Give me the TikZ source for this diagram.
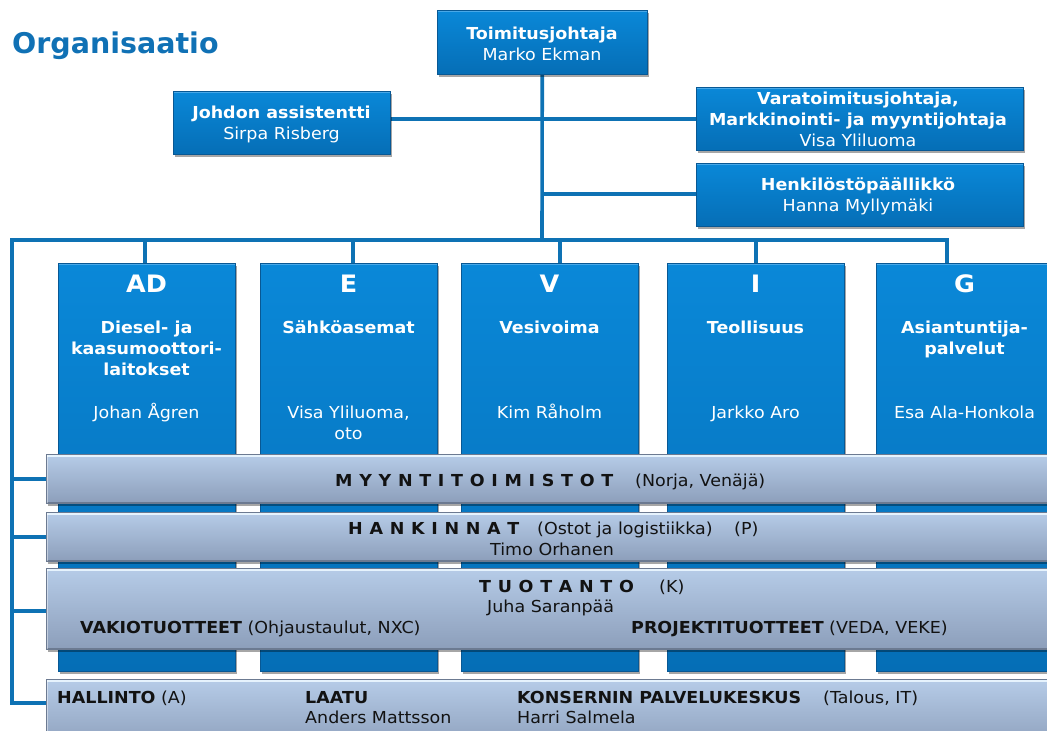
\documentclass[tikz,border=0pt]{standalone}
\usepackage{fontspec}
\setmainfont{DejaVu Sans}[FakeStretch=1.06]
\newfontfamily\headfont{DejaVu Sans}
\newfontfamily\spacedfont{DejaVu Sans}[FakeStretch=1.06, WordSpace=1.1]
\usetikzlibrary{shadows}

\definecolor{titleblue}{RGB}{16,113,181}
\definecolor{lineblue}{RGB}{14,114,180}
\definecolor{boxhi}{RGB}{72,168,232}
\definecolor{boxtop}{RGB}{10,136,216}
\definecolor{boxbot}{RGB}{5,110,182}
\definecolor{boxedge}{RGB}{8,88,148}
\definecolor{bandhi}{RGB}{230,243,253}
\definecolor{bandtop}{RGB}{182,204,232}
\definecolor{bandbot}{RGB}{140,158,186}
\definecolor{bandedge}{RGB}{108,122,145}
\definecolor{ink}{RGB}{18,18,18}

\pgfdeclarelayer{back}
\pgfsetlayers{back,main}

\tikzset{
  conn/.style={draw=lineblue, line width=3.6pt},
  softshadow/.style={drop shadow={shadow xshift=1.5pt, shadow yshift=-2.5pt, opacity=0.35, fill=black}},
  orgbox/.style={anchor=north west, inner sep=0pt, top color=boxtop, bottom color=boxbot,
    draw=boxedge, line width=0.5pt, softshadow,
    path picture={\draw[boxhi, line width=3pt] (path picture bounding box.north west) -- (path picture bounding box.north east);}},
  band/.style={anchor=north west, inner sep=0pt, top color=bandtop, bottom color=bandbot,
    draw=bandedge, line width=0.5pt, softshadow,
    path picture={
      \draw[bandhi, line width=6pt] (path picture bounding box.north west) -- (path picture bounding box.north east);
      \draw[bandedge, line width=3pt] (path picture bounding box.south west) -- (path picture bounding box.south east);
      \draw[white, opacity=0.45, line width=4pt] (path picture bounding box.north west) -- (path picture bounding box.south west);}},
  wt/.style={anchor=base, inner sep=0pt, text=white, font=\fontsize{16.5}{20}\selectfont},
  wtb/.style={wt, font=\fontsize{16.5}{20}\selectfont\bfseries},
  code/.style={wt, font=\fontsize{24}{28}\selectfont\bfseries},
  bt/.style={anchor=base west, inner sep=0pt, text=ink, font=\fontsize{16.5}{20}\selectfont},
  spaced/.style={bt, font=\spacedfont\fontsize{16.5}{20}\selectfont\bfseries},
}

\begin{document}
\begin{tikzpicture}[x=1pt, y=-1pt]
\useasboundingbox (0,0) rectangle (1047,731);
\clip (0,0) rectangle (1047,731);

% heading
\node[anchor=base west, inner sep=0pt, text=titleblue,
      font=\headfont\bfseries\fontsize{28.5}{34}\selectfont] (title) at (12,53) {Organisaatio};

% management boxes
\node[orgbox, minimum width=210, minimum height=64] (ceo) at (437,10) {};
\node[wtb] (ceoT) at (542,39) {Toimitusjohtaja};
\node[wt]  (ceoN) at (542,60) {Marko Ekman};

\node[orgbox, minimum width=217, minimum height=63] (asst) at (173,91) {};
\node[wtb] (asstT) at (281.5,118) {Johdon assistentti};
\node[wt]  (asstN) at (281.5,139) {Sirpa Risberg};

\node[orgbox, minimum width=327, minimum height=63] (vara) at (696,87) {};
\node[wtb] (varaT1) at (858,104) {Varatoimitusjohtaja,};
\node[wtb] (varaT2) at (858,125) {Markkinointi- ja myyntijohtaja};
\node[wt]  (varaN)  at (858,146) {Visa Yliluoma};

\node[orgbox, minimum width=327, minimum height=63] (hr) at (696,163) {};
\node[wtb] (hrT) at (858,190) {Henkilöstöpäällikkö};
\node[wt]  (hrN) at (858,211) {Hanna Myllymäki};

% business units
\node[orgbox, minimum width=177, minimum height=408] (colAD) at (58,263) {};
\node[orgbox, minimum width=177, minimum height=408] (colE)  at (260,263) {};
\node[orgbox, minimum width=177, minimum height=408] (colV)  at (461,263) {};
\node[orgbox, minimum width=177, minimum height=408] (colI)  at (667,263) {};
\node[orgbox, minimum width=177, minimum height=408] (colG)  at (876,263) {};

\node[code] (adC) at (146.5,292) {AD};
\node[wtb] (adT1) at (146.5,333) {Diesel- ja};
\node[wtb] (adT2) at (146.5,354) {kaasumoottori-};
\node[wtb] (adT3) at (146.5,375) {laitokset};
\node[wt]  (adN)  at (146.5,418) {Johan Ågren};

\node[code] (eC) at (348.5,292) {E};
\node[wtb] (eT) at (348.5,333) {Sähköasemat};
\node[wt]  (eN1) at (348.5,418) {Visa Yliluoma,};
\node[wt]  (eN2) at (348.5,439) {oto};

\node[code] (vC) at (549.5,292) {V};
\node[wtb] (vT) at (549.5,333) {Vesivoima};
\node[wt]  (vN) at (549.5,418) {Kim Råholm};

\node[code] (iC) at (755.5,292) {I};
\node[wtb] (iT) at (755.5,333) {Teollisuus};
\node[wt]  (iN) at (755.5,418) {Jarkko Aro};

\node[code] (gC) at (964.5,292) {G};
\node[wtb] (gT1) at (964.5,333) {Asiantuntija-};
\node[wtb] (gT2) at (964.5,354) {palvelut};
\node[wt]  (gN)  at (964.5,418) {Esa Ala-Honkola};

% cross-functional bands
\node[band, minimum width=1020, minimum height=49] (myy)  at (46,454) {};
\node[band, minimum width=1020, minimum height=49] (han)  at (46,512) {};
\node[band, minimum width=1020, minimum height=81] (tuo)  at (46,568) {};
\node[band, minimum width=1020, minimum height=70] (hall) at (46,679) {};

\node[spaced] (myyT) at (335,486) {M Y Y N T I T O I M I S T O T};
\node[bt] (myyC) at (635,486) {(Norja, Venäjä)};

\node[spaced] (hanT) at (348,534) {H A N K I N N A T};
\node[bt] (hanC) at (537,534) {(Ostot ja logistiikka)};
\node[bt] (hanP) at (734,534) {(P)};
\node[bt] (hanN) at (490,555) {Timo Orhanen};

\node[spaced] (tuoT) at (479,592) {T U O T A N T O};
\node[bt] (tuoK) at (659,592) {(K)};
\node[bt] (tuoN) at (487,612) {Juha Saranpää};
\node[bt] (vak)  at (80,633)  {{\bfseries VAKIOTUOTTEET} (Ohjaustaulut, NXC)};
\node[bt] (proj) at (631,633) {\bfseries PROJEKTITUOTTEET};
\node[bt] (projC) at (829,633) {(VEDA, VEKE)};

\node[bt] (hallT) at (57,703)  {{\bfseries HALLINTO} (A)};
\node[bt] (laaT)  at (305,703) {\bfseries LAATU};
\node[bt] (laaN)  at (305,723) {Anders Mattsson};
\node[bt] (kpkT)  at (517,703) {\bfseries KONSERNIN PALVELUKESKUS};
\node[bt] (kpkC)  at (823,703) {(Talous, IT)};
\node[bt] (kpkN)  at (517,723) {Harri Salmela};

% reporting lines
\coordinate (busL) at (12,240);
\coordinate (busM) at (542,240);
\coordinate (jTop) at (542,119);
\coordinate (jHr)  at (542,194);
\coordinate (dAD) at (145,240);
\coordinate (dE)  at (353,240);
\coordinate (dV)  at (560,240);
\coordinate (dI)  at (756,240);
\coordinate (dG)  at (947,240);
\coordinate (r1) at (12,479);
\coordinate (r2) at (12,537);
\coordinate (r3) at (12,611);
\coordinate (r4) at (12,703);

\begin{pgfonlayer}{back}
  \draw[conn] (ceo.south) -- (busM);
  \draw[conn] (asst.east |- jTop) -- (vara.west |- jTop);
  \draw[conn] (jHr) -- (hr.west |- jHr);
  \draw[conn] (dG |- colG.north) -- (dG) -- (busL) -- (r4) -- (r4 -| hall.west);
  \draw[conn] (dAD) -- (dAD |- colAD.north);
  \draw[conn] (dE) -- (dE |- colE.north);
  \draw[conn] (dV) -- (dV |- colV.north);
  \draw[conn] (dI) -- (dI |- colI.north);
  \draw[conn] (r1) -- (r1 -| myy.west);
  \draw[conn] (r2) -- (r2 -| han.west);
  \draw[conn] (r3) -- (r3 -| tuo.west);
\end{pgfonlayer}
\end{tikzpicture}
\end{document}
